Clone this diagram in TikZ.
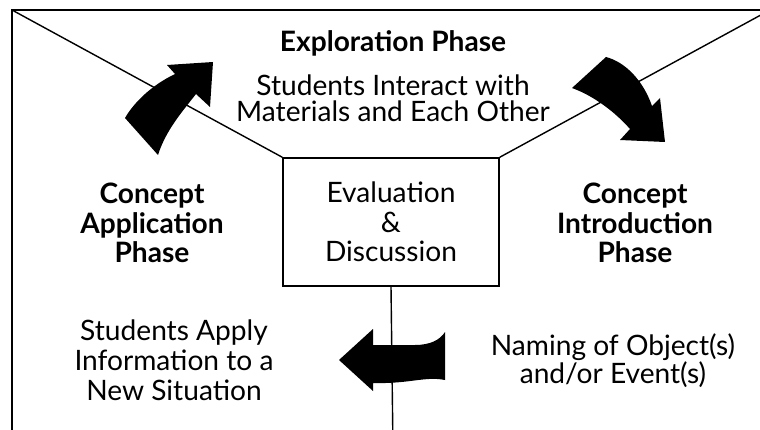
\documentclass[tikz,border=0pt]{standalone}
\usepackage{fontspec}
\setmainfont{Lato}

\begin{document}
\begin{tikzpicture}[x=0.03cm,y=-0.03cm,
    phase/.style={font=\fontsize{24}{25.6}\selectfont\bfseries, align=center, anchor=base},
    info/.style={font=\fontsize{24}{25.6}\selectfont, align=center, anchor=base}]
        \useasboundingbox (0,0) rectangle (760,430);
        \clip (0,0) rectangle (760,430);

        % 外框
        \coordinate (tl) at (12,10);
        \coordinate (tr) at (770,10);
        \coordinate (bot) at (393,450);
        \draw[line width=1.7pt] (tl) rectangle (770,450);

        % 中间方框
        \node[draw, line width=1.3pt, minimum width=6.48cm, minimum height=3.84cm,
              font=\fontsize{24}{25}\selectfont, align=center] (eval) at (391,222)
              {Evaluation\\\&\\Discussion};
        \draw[line width=1.2pt] (tl) -- (eval.north west);
        \draw[line width=1.2pt] (eval.north east) -- (tr);
        \draw[line width=1.2pt] (eval.south) -- (bot);

        % 三个阶段
        \node[phase] (explore) at (393,52) {Exploration Phase};
        \node[phase] (apply) at (152,263) {Concept\\Application\\Phase};
        \node[phase] (intro) at (635,263) {Concept\\Introduction\\Phase};

        % 说明文字
        \node[info, font=\fontsize{24}{23}\selectfont] (interact) at (393,122)
              {Students Interact with\\Materials and Each Other};
        \node[info] (applyinfo) at (174,400)
              {Students Apply\\Information to a\\New Situation};
        \node[info, font=\fontsize{24}{23.8}\selectfont] (naming) at (613,383)
              {Naming of Object(s)\\and/or Event(s)};

        % 弯箭头
        \fill (125,118) .. controls (133,104) and (150,86) .. (175,74)
            -- (167,65) -- (213,62) -- (210,107) -- (196,94)
            .. controls (182,112) and (166,130) .. (158,155) -- cycle;
        \fill (572,88) -- (606,57) .. controls (625,62) and (643,80) .. (652,106)
            -- (660,98) -- (665,142) -- (620,140) -- (630,129)
            .. controls (615,112) and (594,96) .. (572,88) -- cycle;
        \fill (339,360) -- (373,329) -- (373,345) -- (415,345)
            .. controls (430,345) and (440,340) .. (445,332) -- (445,380)
            .. controls (425,376) and (410,384) .. (373,383) -- (373,391) -- cycle;
    \end{tikzpicture}
\end{document}
